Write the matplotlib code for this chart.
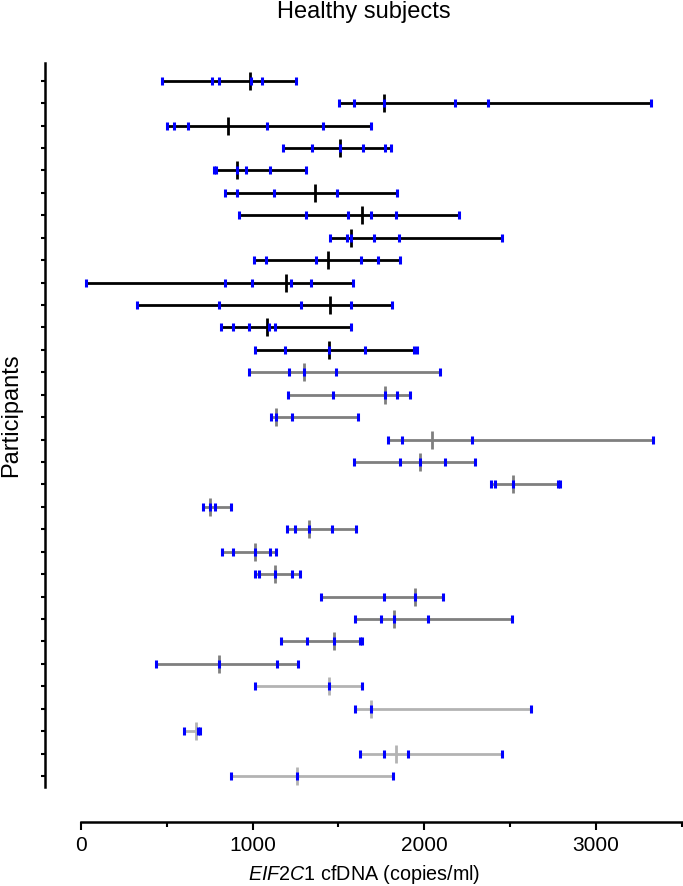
import numpy as np
import matplotlib
matplotlib.use("Agg")
import matplotlib.pyplot as plt
from matplotlib.ticker import MultipleLocator

plt.rcParams["font.family"] = ["Liberation Sans", "DejaVu Sans"]
plt.rcParams["mathtext.fontset"] = "custom"
plt.rcParams["mathtext.rm"] = "Liberation Sans"
plt.rcParams["mathtext.it"] = "Liberation Sans:italic"

# =========================================================
# Data: repeated EIF2C1 cfDNA measurements per participant
# =========================================================
measurements = [
    [472, 761, 802, 990, 1052, 1253],
    [1505, 1592, 1765, 2176, 2371, 3317],
    [503, 544, 625, 1083, 1408, 1691],
    [1176, 1344, 1509, 1642, 1769, 1805],
    [775, 785, 912, 960, 1104, 1313],
    [837, 910, 1125, 1491, 1840],
    [920, 1313, 1558, 1689, 1837, 2203],
    [1453, 1552, 1575, 1709, 1854, 2451],
    [1011, 1079, 1369, 1633, 1730, 1860],
    [32, 840, 994, 1226, 1340, 1587],
    [325, 802, 1284, 1573, 1809],
    [815, 885, 978, 1096, 1131, 1575],
    [1015, 1191, 1445, 1656, 1940, 1955],
    [980, 1214, 1298, 1488, 2094],
    [1205, 1466, 1773, 1840, 1916],
    [1106, 1137, 1232, 1613],
    [1790, 1869, 2276, 3333],
    [1588, 1858, 1976, 2123, 2294],
    [2389, 2414, 2517, 2776, 2792],
    [709, 750, 780, 875],
    [1201, 1245, 1329, 1462, 1600],
    [823, 887, 1015, 1104, 1137],
    [1015, 1038, 1131, 1232, 1279],
    [1398, 1765, 1945, 2110],
    [1598, 1745, 1821, 2020, 2513],
    [1164, 1315, 1476, 1625, 1637],
    [439, 802, 1141, 1267],
    [1017, 1445, 1639],
    [1596, 1689, 2619],
    [598, 680, 693],
    [1627, 1765, 1904, 2451],
    [873, 1259, 1815],
]

centers = [984, 1765, 858, 1509, 912, 1366, 1637, 1575, 1439, 1197,
           1449, 1084, 1445, 1298, 1773, 1137, 2046, 1976, 2517, 753,
           1329, 1015, 1131, 1945, 1821, 1476, 802, 1445, 1689, 668,
           1834, 1259]

groups = [0] * 13 + [1] * 14 + [2] * 5
group_colors = ["#000000", "#7f7f7f", "#b3b3b3"]

x_ticks = [0, 1000, 2000, 3000]

# =========================================================
# Plot
# =========================================================
W, H = 683, 887
fig = plt.figure(figsize=(W / 100, H / 100), dpi=100)
ax = fig.add_axes([80.8 / W, 1 - 788 / H, (682 - 80.8) / W, (788 - 64) / H])

for i, (vals, c, g) in enumerate(zip(measurements, centers, groups)):
    col = group_colors[g]
    ax.plot([min(vals), max(vals)], [i, i], color=col, lw=2,
            solid_capstyle="butt", zorder=1)
    ax.plot([c], [i], marker="|", ms=13, mew=2, color=col,
            ls="none", zorder=2)
    ax.plot(vals, [i] * len(vals), marker="|", ms=5.5, mew=2.2,
            color="#0000ff", ls="none", zorder=3)

ax.set_xlim(0, 3500)
ax.set_ylim(31.49, -0.79)

ax.spines["top"].set_visible(False)
ax.spines["right"].set_visible(False)
ax.spines["left"].set_position(("outward", 26))
ax.spines["bottom"].set_position(("outward", 25.4))
ax.spines["left"].set_linewidth(1.8)
ax.spines["bottom"].set_linewidth(1.8)

ax.set_yticks(range(len(measurements)))
ax.set_yticklabels([])
ax.tick_params(axis="y", length=3, width=1.5)

ax.set_xticks(x_ticks)
ax.set_xticklabels([str(t) for t in x_ticks])
ax.xaxis.set_minor_locator(MultipleLocator(500))
ax.tick_params(axis="x", which="major", length=5.5, width=1.5, pad=4,
               labelsize=15)
ax.tick_params(axis="x", which="minor", length=3.5, width=1.5)

fig.text(364 / W, 1 - 18.3 / H, "Healthy subjects", ha="center",
         va="baseline", fontsize=17)
fig.text(364 / W, 1 - 880 / H, r"$\mathit{EIF2C1}$ cfDNA (copies/ml)",
         ha="center", va="baseline", fontsize=14.2)
fig.text(0.5 / W, 1 - 415 / H, "Participants", rotation=90, ha="left",
         va="center", fontsize=17)

plt.savefig("out.png", dpi=100)
